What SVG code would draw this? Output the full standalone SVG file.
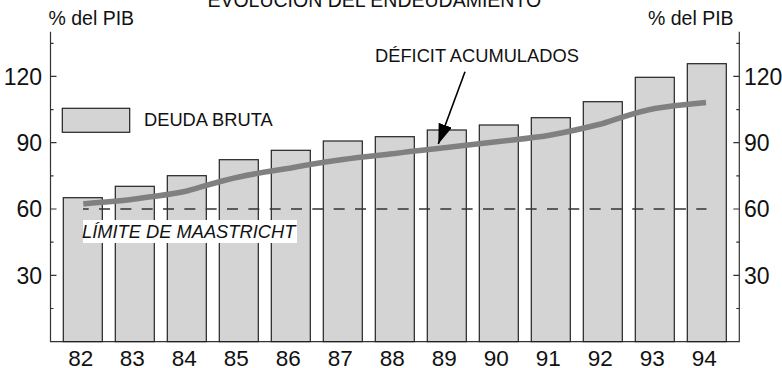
<svg xmlns="http://www.w3.org/2000/svg" width="782" height="368" viewBox="0 0 782 368">
<style>
text{font-family:"Liberation Sans",Arial,sans-serif;fill:#111}
.ax{stroke:#333;stroke-width:1.2;fill:none}
.bar{fill:#d4d4d4;stroke:#222;stroke-width:1.2}
.num{font-size:23px}
.yr{font-size:22.5px;text-anchor:middle}
.lbl{font-size:18.3px}
</style>
<defs>
<marker id="ah" viewBox="0 0 20 14" refX="20" refY="7" markerWidth="20" markerHeight="14" markerUnits="userSpaceOnUse" orient="auto">
<path d="M0,0 L20,7 L0,14 Z" fill="#000"/>
</marker>
</defs>
<text x="374.3" y="7" style="font-size:19.5px" text-anchor="middle">EVOLUCIÓN DEL ENDEUDAMIENTO</text>
<text x="48.5" y="25" style="font-size:19.5px">% del PIB</text>
<text x="648" y="25" style="font-size:19.5px">% del PIB</text>
<g id="axes">
<path class="ax" d="M50.5,31.7 V341.6 H739.3 V31.7"/>
<path class="ax" d="M50.5,275.3 h6 M50.5,209 h6 M50.5,142.7 h6 M50.5,76.4 h6 M50.5,308.5 h3 M50.5,242.2 h3 M50.5,175.9 h3 M50.5,109.6 h3 M50.5,43.3 h3"/>
<path class="ax" d="M739.3,275.3 h-6 M739.3,209 h-6 M739.3,142.7 h-6 M739.3,76.4 h-6 M739.3,308.5 h-3 M739.3,242.2 h-3 M739.3,175.9 h-3 M739.3,109.6 h-3 M739.3,43.3 h-3"/>
<g class="num" text-anchor="end">
<text x="42" y="85">120</text><text x="42" y="151">90</text><text x="42" y="217">60</text><text x="42" y="283.5">30</text>
</g>
<g class="num">
<text x="744" y="85">120</text><text x="744" y="151">90</text><text x="744" y="217">60</text><text x="744" y="283.5">30</text>
</g>
</g>
<g id="bars">
<rect class="bar" x="63.3" y="197.7" width="39" height="143.9"/>
<rect class="bar" x="115.3" y="186.3" width="39" height="155.3"/>
<rect class="bar" x="167.3" y="175.7" width="39" height="165.9"/>
<rect class="bar" x="219.3" y="159.7" width="39" height="181.9"/>
<rect class="bar" x="271.3" y="150.3" width="39" height="191.3"/>
<rect class="bar" x="323.3" y="141" width="39" height="200.6"/>
<rect class="bar" x="375.3" y="136.7" width="39" height="204.9"/>
<rect class="bar" x="427.3" y="130" width="39" height="211.6"/>
<rect class="bar" x="479.3" y="125" width="39" height="216.6"/>
<rect class="bar" x="531.3" y="117.7" width="39" height="223.9"/>
<rect class="bar" x="583.3" y="101.7" width="39" height="239.9"/>
<rect class="bar" x="635.3" y="77.3" width="39" height="264.3"/>
<rect class="bar" x="687.3" y="63.7" width="39" height="277.9"/>
</g>
<g id="years" class="yr">
<text x="80.8" y="366">82</text><text x="132.3" y="366">83</text><text x="184.3" y="366">84</text><text x="236.3" y="366">85</text><text x="288.3" y="366">86</text><text x="340.3" y="366">87</text><text x="392.3" y="366">88</text><text x="444.3" y="366">89</text><text x="496.3" y="366">90</text><text x="548.3" y="366">91</text><text x="600.3" y="366">92</text><text x="652.3" y="366">93</text><text x="704.3" y="366">94</text>
</g>
<g id="maastricht">
<line x1="83" y1="209" x2="706.5" y2="209" stroke="#333" stroke-width="1.5" stroke-dasharray="11 10.33" stroke-dashoffset="5.3"/>
<rect x="83" y="220" width="214" height="23" fill="#fff"/>
<text class="lbl" x="82" y="237.5" font-style="italic">LÍMITE DE MAASTRICHT</text>
</g>
<g id="legend">
<rect class="bar" x="62.3" y="108.3" width="67.4" height="24"/>
<text class="lbl" x="144" y="126">DEUDA BRUTA</text>
</g>
<g id="deficit">
<path d="M83.3,204 C100,202 118,201.5 134.8,199 C153,196 170,195 186.8,191 C205,186 220,181 238.8,177 C256,173 273,171 290.8,168 C308,164.5 325,162 342.8,159.5 C360,157 377,155.5 394.8,153.5 C412,151 429,149.5 446.8,147.5 C464,145.5 481,143.5 498.8,141.5 C516,139.5 534,138 550.8,135 C570,131.5 585,128 602.8,123.5 C621,118 637,111.5 654.8,108.5 C672,105.5 690,104 706,102.5" fill="none" stroke="#808080" stroke-width="5.5"/>
<text class="lbl" x="375" y="62">DÉFICIT ACUMULADOS</text>
</g>
<g id="connectors">
<line x1="465" y1="71.7" x2="438.3" y2="144" stroke="#000" stroke-width="1.6" marker-end="url(#ah)"/>
</g>
</svg>
